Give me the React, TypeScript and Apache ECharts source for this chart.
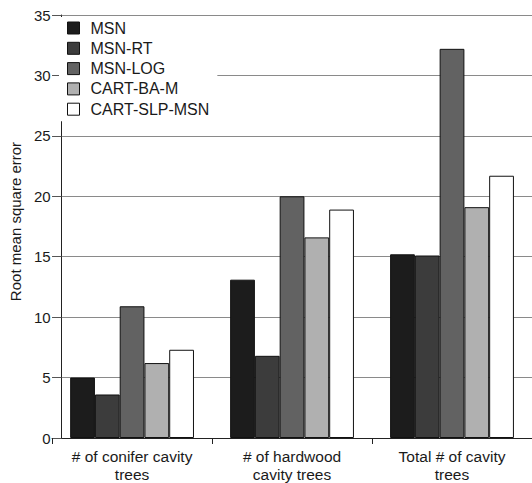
import React, { useEffect, useRef } from "react";
import * as echarts from "echarts";

const categories = ["# of conifer cavity\ntrees", "# of hardwood\ncavity trees", "Total # of cavity\ntrees"];
const seriesNames = ["MSN", "MSN-RT", "MSN-LOG", "CART-BA-M", "CART-SLP-MSN"];
const msn = [5.0, 13.1, 15.2];
const msnRt = [3.6, 6.8, 15.1];
const msnLog = [10.9, 20.0, 32.2];
const cartBaM = [6.2, 16.6, 19.1];
const cartSlpMsn = [7.3, 18.9, 21.7];
const seriesValues = [msn, msnRt, msnLog, cartBaM, cartSlpMsn];
const seriesColors = ["#1c1c1c", "#3c3c3c", "#626262", "#b0b0b0", "#ffffff"];
const yTicks = { min: 0, max: 35, interval: 5 };

const FONT = "'Liberation Sans', Arial, Helvetica, sans-serif";

export default function App() {
  const ref = useRef<HTMLDivElement>(null);
  useEffect(() => {
    if (!ref.current) return;
    const chart = echarts.init(ref.current, null, { renderer: "svg" });
    chart.setOption({
      animation: false,
      backgroundColor: "#ffffff",
      textStyle: { fontFamily: FONT },
      grid: { left: 50.5, top: 15, width: 492, bottom: 44, containLabel: false },
      legend: {
        orient: "vertical",
        left: 59,
        top: 17,
        padding: [3, 8, 4, 8],
        backgroundColor: "#ffffff",
        z: 10,
        icon: "rect",
        itemWidth: 12,
        itemHeight: 12,
        itemGap: 4.3,
        itemStyle: { borderColor: "#111", borderWidth: 1 },
        textStyle: { fontSize: 16, color: "#1a1a1a", lineHeight: 16, fontFamily: FONT, padding: [0, 0, 0, 6] },
        data: seriesNames,
      },
      xAxis: {
        type: "category",
        data: categories,
        axisLine: { show: true, lineStyle: { color: "#222", width: 1 } },
        axisTick: { show: true, length: 6, lineStyle: { color: "#222" } },
        axisLabel: { color: "#1a1a1a", fontSize: 15.5, lineHeight: 18, margin: 9, fontFamily: FONT, interval: 0 },
      },
      yAxis: {
        type: "value",
        min: yTicks.min,
        max: yTicks.max,
        interval: yTicks.interval,
        offset: -9.5,
        name: "Root mean square error",
        nameLocation: "middle",
        nameRotate: 90,
        nameGap: 27,
        nameTextStyle: { fontSize: 15, color: "#1a1a1a", fontFamily: FONT, padding: [0, 0, 0, 10] },
        axisLine: { show: true, lineStyle: { color: "#222", width: 1 } },
        axisTick: { show: true, length: 9.5, lineStyle: { color: "#555" } },
        axisLabel: { color: "#1a1a1a", fontSize: 15, margin: 11, fontFamily: FONT },
        splitLine: { show: true, lineStyle: { color: "#8a8a8a", width: 1 } },
      },
      series: seriesNames.map((name, i) => ({
        name,
        type: "bar",
        data: seriesValues[i],
        barGap: "0%",
        barCategoryGap: "22.6%",
        itemStyle: { color: seriesColors[i], borderColor: "#111", borderWidth: 1 },
      })),
    });
    return () => chart.dispose();
  }, []);
  return <div ref={ref} style={{ position: "absolute", left: 0, top: 0, width: 532, height: 483 }} />;
}
